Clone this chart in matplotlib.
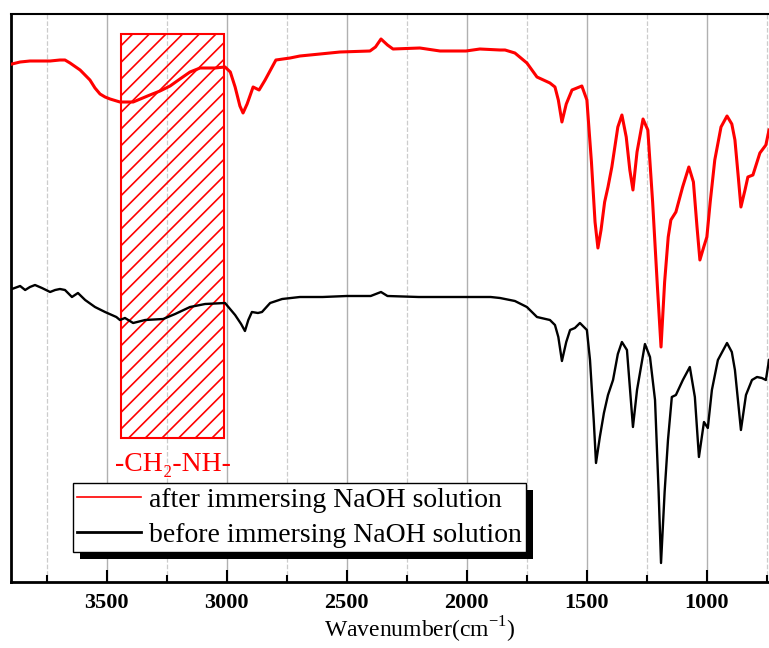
import matplotlib

matplotlib.use("Agg")
import matplotlib.pyplot as plt
from matplotlib.patches import Rectangle
from matplotlib.ticker import MultipleLocator

plt.rcParams["font.family"] = ["Liberation Serif", "DejaVu Serif"]
plt.rcParams["mathtext.fontset"] = "custom"
plt.rcParams["mathtext.rm"] = "Liberation Serif"
plt.rcParams["hatch.linewidth"] = 1.2

# FTIR spectra, wavenumber (cm-1) vs transmittance (a.u.)
after_wn = [3895, 3861, 3820, 3778, 3736, 3695, 3674, 3653, 3611, 3570, 3549, 3528,
            3507, 3486, 3445, 3424, 3390, 3320, 3278, 3236, 3195, 3153, 3111, 3049,
            3007, 2985, 2965, 2945, 2932, 2915, 2890, 2865, 2840, 2795, 2736, 2695,
            2611, 2528, 2403, 2380, 2357, 2330, 2307, 2195, 2111, 2003, 1945, 1861,
            1840, 1799, 1749, 1707, 1653, 1632, 1618, 1603, 1585, 1561, 1520, 1499,
            1480, 1465, 1453, 1440, 1425, 1411, 1395, 1370, 1353, 1335, 1320, 1307,
            1290, 1265, 1245, 1225, 1205, 1190, 1175, 1160, 1149, 1128, 1100, 1074,
            1055, 1040, 1028, 1012, 999, 985, 966, 940, 915, 895, 882, 868, 857,
            840, 828, 807, 778, 753, 740]
after_y = [518, 520, 521, 521, 521, 522, 522, 519, 512, 502, 494, 488,
           485, 483, 480, 480, 480, 487, 491, 496, 503, 510, 514, 514,
           515, 510, 495, 476, 469, 478, 495, 492, 502, 522, 524, 526,
           528, 530, 531, 535, 543, 537, 533, 534, 531, 531, 533, 532,
           532, 529, 519, 505, 499, 495, 482, 460, 478, 492, 496, 482,
           420, 360, 334, 352, 380, 395, 415, 455, 467, 445, 412, 392,
           430, 463, 452, 380, 295, 235, 300, 345, 362, 370, 395, 415,
           400, 355, 322, 335, 345, 380, 422, 455, 466, 458, 442, 405, 375,
           392, 405, 407, 429, 437, 452]

before_wn = [3895, 3861, 3840, 3820, 3799, 3770, 3736, 3715, 3695, 3674, 3645, 3620,
             3590, 3549, 3507, 3460, 3445, 3424, 3390, 3340, 3265, 3215, 3153, 3090,
             3007, 2965, 2940, 2924, 2910, 2895, 2870, 2853, 2819, 2769, 2695, 2600,
             2500, 2400, 2357, 2330, 2200, 2100, 2000, 1900, 1861, 1799, 1749, 1707,
             1653, 1632, 1618, 1603, 1585, 1569, 1549, 1528, 1499, 1486, 1470, 1461,
             1445, 1428, 1411, 1390, 1370, 1353, 1332, 1320, 1307, 1290, 1257, 1236,
             1215, 1200, 1190, 1175, 1161, 1145, 1128, 1099, 1070, 1049, 1032, 1011,
             995, 978, 953, 915, 895, 882, 857, 836, 811, 790, 770, 753, 740]
before_y = [293, 296, 292, 295, 297, 294, 290, 292, 293, 292, 285, 289,
            282, 275, 270, 265, 262, 264, 259, 262, 263, 268, 275, 278,
            279, 267, 258, 251, 262, 270, 269, 270, 279, 283, 285, 285,
            286, 286, 290, 286, 285, 285, 285, 285, 284, 281, 275, 265,
            262, 257, 245, 221, 240, 252, 254, 259, 252, 222, 160, 119,
            145, 169, 187, 202, 228, 240, 232, 195, 155, 192, 238, 225,
            182, 90, 19, 90, 142, 185, 187, 202, 215, 185, 125, 160,
            154, 192, 222, 239, 230, 212, 152, 187, 202, 205, 204, 202, 222]

labels = ["after immersing NaOH solution", "before immersing NaOH solution"]
colors = ["#ff0000", "#000000"]

# highlighted -CH2-NH- region
box_wn = (3440, 3010)
box_y = (144, 548)
box_label = "-CH\u2082-NH-"

fig = plt.figure(figsize=(7.69, 6.48), dpi=100)
ax = fig.add_axes([11 / 769, 66 / 648, 758 / 769, 568 / 648])

ax.add_patch(Rectangle((box_wn[1], box_y[0]), box_wn[0] - box_wn[1],
                       box_y[1] - box_y[0], facecolor="none",
                       edgecolor="#ff0000", hatch="//", lw=1.5, zorder=1.5))
ax.text((box_wn[0] + box_wn[1]) / 2, 111, box_label, color="#ff0000",
        fontsize=20, ha="center", va="baseline")

ax.plot(after_wn, after_y, color=colors[0], lw=2.2, label=labels[0], zorder=3)
ax.plot(before_wn, before_y, color=colors[1], lw=1.7, label=labels[1], zorder=3)

ax.set_xlim(3899, 740)
ax.set_ylim(0, 568)
ax.xaxis.set_major_locator(MultipleLocator(500))
ax.xaxis.set_minor_locator(MultipleLocator(250))
ax.set_yticks([])
ax.grid(True, axis="x", which="major", color="#b0b0b0", lw=1.0, ls="-", zorder=0)
ax.grid(True, axis="x", which="minor", color="#cccccc", lw=0.9, ls="--", zorder=0)
ax.set_axisbelow(True)

ax.tick_params(axis="x", which="major", direction="in", length=9, width=1.5,
               pad=8, labelsize=16)
ax.tick_params(axis="x", which="minor", direction="in", length=5, width=1.5)
for lbl in ax.get_xticklabels():
    lbl.set_fontweight("bold")

ax.spines["right"].set_visible(False)
ax.spines["left"].set_linewidth(2)
ax.spines["bottom"].set_linewidth(2)
ax.spines["top"].set_linewidth(1.5)

ax.set_xlabel("Wavenumber(cm$^{\\mathregular{-1}}$)", fontsize=17)
ax.xaxis.set_label_coords(0.539, -0.058)

leg = ax.legend(loc="lower left", bbox_to_anchor=(73 / 769, 96 / 648),
                bbox_transform=fig.transFigure, borderaxespad=0, fontsize=20,
                handlelength=2.3, handletextpad=0.3, borderpad=0.15,
                labelspacing=0.35, fancybox=False, framealpha=1,
                edgecolor="black")
leg.get_frame().set_linewidth(1.0)
leg.set_zorder(6)
leg_lines = leg.get_lines()
leg_lines[0].set_linewidth(1.2)
leg_lines[1].set_linewidth(2.0)

# solid black drop shadow behind the legend
fig.canvas.draw()
bb = leg.get_window_extent()
shadow = Rectangle((bb.x0 + 7, bb.y0 - 7), bb.width, bb.height,
                   transform=None, facecolor="black", edgecolor="none",
                   zorder=5.5)
ax.add_artist(shadow)

fig.savefig("out.png", dpi=100)
